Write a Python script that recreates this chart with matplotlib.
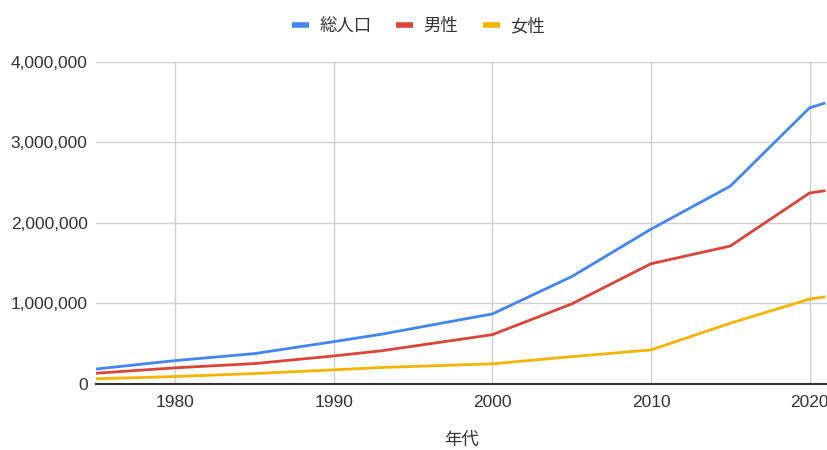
import matplotlib
matplotlib.use("Agg")
import matplotlib.pyplot as plt
from matplotlib.ticker import FuncFormatter, FixedLocator

plt.rcParams['font.family'] = ['Liberation Sans', 'Noto Sans CJK JP', 'DejaVu Sans']

years = [1975, 1980, 1985, 1990, 1993, 2000, 2005, 2010, 2015, 2020, 2021]
total = [180000, 285000, 372000, 521000, 613000, 866000, 1330000, 1920000, 2455000, 3430000, 3490000]
male = [128000, 195000, 248000, 343000, 407000, 608000, 990000, 1490000, 1710000, 2370000, 2400000]
female = [58000, 87000, 124000, 170000, 199000, 245000, 334000, 418000, 750000, 1050000, 1080000]

series_names = ['総人口', '男性', '女性']
colors = ['#4285F4', '#DB4437', '#F4B400']
x_ticks = [1980, 1990, 2000, 2010, 2020]
y_ticks = [0, 1000000, 2000000, 3000000, 4000000]

fig = plt.figure(figsize=(8.27, 4.5), dpi=100)
ax = fig.add_axes([96/827, (450-383.5)/450, 1 - 96/827, (383.5-62)/450])

for vals, name, c in zip([total, male, female], series_names, colors):
    ax.plot(years, vals, color=c, linewidth=2.0, label=name, solid_capstyle='butt', zorder=3)

ax.set_xlim(1975, 2021.1)
ax.set_ylim(0, 4000000)
ax.xaxis.set_major_locator(FixedLocator(x_ticks))
ax.yaxis.set_major_locator(FixedLocator(y_ticks))
ax.yaxis.set_major_formatter(FuncFormatter(lambda v, p: f"{int(v):,}"))
ax.grid(True, color='#d0d0d0', linewidth=1.0, zorder=0)
for s in ['top', 'right', 'left']:
    ax.spines[s].set_visible(False)
ax.spines['bottom'].set_color('#333333')
ax.spines['bottom'].set_linewidth(1.5)
ax.spines['bottom'].set_zorder(4)
ax.tick_params(axis='both', length=0, labelsize=12.5, colors='#333333')
ax.tick_params(axis='y', pad=6)
ax.tick_params(axis='x', pad=8)

ax.set_xlabel('年代', fontsize=12.5, color='#333333', labelpad=16)

leg = fig.legend(loc='center', bbox_to_anchor=(418.5/827, 1 - 26/450), ncol=3, frameon=False,
                 fontsize=12.5, handlelength=1.0, handletextpad=0.6, columnspacing=1.4)
for line in leg.get_lines():
    line.set_linewidth(4)
for t in leg.get_texts():
    t.set_color('#333333')

fig.savefig('out.png', dpi=100)
